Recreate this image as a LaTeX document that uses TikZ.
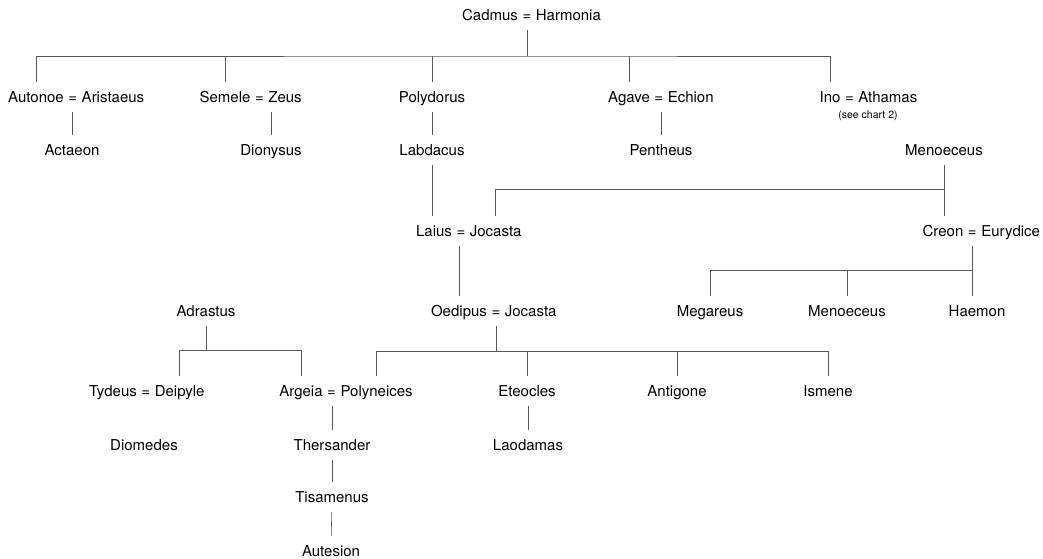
\documentclass[tikz,border=0pt]{standalone}
\usepackage{fontspec}
\setmainfont{TeX Gyre Heros}
\usetikzlibrary{positioning}

\tikzset{
  person/.style={inner xsep=0pt, inner ysep=10pt, text height=10pt, text depth=0pt,
    font=\fontsize{15}{18}\selectfont},
  spouse/.style={person, right=4.2pt of #1},
  remark/.style={inner sep=0pt, font=\fontsize{10.5}{12}\selectfont},
  kin/.style={draw=black!65, line width=0.6pt},
}

\begin{document}
\begin{tikzpicture}[x=1pt, y=-1pt]
\useasboundingbox (0,0) rectangle (1043,558);

%% first couple
\node[person] (cadmus) at (490,15) {Cadmus};
\node[spouse=cadmus] (cadwed) {=};
\node[spouse=cadwed] (harmonia) {Harmonia};

%% their children
\node[person] (autonoe) at (36,97) {Autonoe};
\node[spouse=autonoe] (autwed) {=};
\node[spouse=autwed] (aristaeus) {Aristaeus};
\node[person] (semele) at (225,97) {Semele};
\node[spouse=semele] (semwed) {=};
\node[spouse=semwed] (zeus) {Zeus};
\node[person] (polydorus) at (432,97) {Polydorus};
\node[person] (agave) at (629,97) {Agave};
\node[spouse=agave] (agawed) {=};
\node[spouse=agawed] (echion) {Echion};
\node[person] (ino) at (830,97) {Ino};
\node[spouse=ino] (inowed) {=};
\node[spouse=inowed] (athamas) {Athamas};
\node[remark] (chart2) at (868,116) {(see chart 2)};

\node[person] (actaeon) at (72,150) {Actaeon};
\node[person] (dionysus) at (271,150) {Dionysus};
\node[person] (labdacus) at (432,150) {Labdacus};
\node[person] (pentheus) at (661,150) {Pentheus};
\node[person] (menoeceus) at (944,150) {Menoeceus};

\node[person] (laius) at (434,231) {Laius};
\node[spouse=laius] (laiwed) {=};
\node[spouse=laiwed] (jocasta) {Jocasta};
\node[person] (creon) at (943,231) {Creon};
\node[spouse=creon] (crewed) {=};
\node[spouse=crewed] (eurydice) {Eurydice};

\node[person] (adrastus) at (206,311) {Adrastus};
\node[person] (oedipus) at (459,311) {Oedipus};
\node[spouse=oedipus] (oedwed) {=};
\node[spouse=oedwed] (jocastab) {Jocasta};
\node[person] (megareus) at (710,311) {Megareus};
\node[person] (menoeceusb) at (847,311) {Menoeceus};
\node[person] (haemon) at (977,311) {Haemon};

\node[person] (tydeus) at (113,391) {Tydeus};
\node[spouse=tydeus] (tydwed) {=};
\node[spouse=tydwed] (deipyle) {Deipyle};
\node[person] (argeia) at (301,391) {Argeia};
\node[spouse=argeia] (argwed) {=};
\node[spouse=argwed] (polyneices) {Polyneices};
\node[person] (eteocles) at (527,391) {Eteocles};
\node[person] (antigone) at (677,391) {Antigone};
\node[person] (ismene) at (828,391) {Ismene};

\node[person] (diomedes) at (144,445) {Diomedes};
\node[person] (thersander) at (332,445) {Thersander};
\node[person] (laodamas) at (528,445) {Laodamas};
\node[person] (tisamenus) at (332,497) {Tisamenus};
\node[person] (autesion) at (331,551) {Autesion};

%% Cadmus' line
\coordinate (cadbar) at (cadwed.south |- 0,56);
\draw[kin] (cadwed.south) -- (cadbar);
\draw[kin] (autonoe.north) |- (cadbar) -| (ino.north);
\foreach \n in {semele,polydorus,agave}
  \draw[kin] (\n.north) -- (\n.north |- cadbar);

\draw[kin] (actaeon.north) -- (actaeon.north |- autonoe.south);
\draw[kin] (dionysus.north) -- (dionysus.north |- semele.south);
\draw[kin] (pentheus.north) -- (pentheus.north |- agave.south);
\draw[kin] (polydorus) -- (labdacus);
\draw[kin] (labdacus.south) -- (labdacus.south |- laius.north);
\draw[kin] (oedipus.north) -- (oedipus.north |- laius.south);

%% Menoeceus
\coordinate (menbar) at (menoeceus.south |- 0,189);
\draw[kin] (menoeceus.south) -- (menoeceus.south |- creon.north);
\draw[kin] (jocasta.north) |- (menbar);

%% Creon
\coordinate (crebar) at (crewed.south |- 0,270);
\draw[kin] (crewed.south) -- (crebar) -- (crebar |- haemon.north);
\draw[kin] (megareus.north) |- (crebar);
\draw[kin] (menoeceusb.north) -- (menoeceusb.north |- crebar);

%% Oedipus
\coordinate (oedbar) at (oedwed.south |- 0,351);
\draw[kin] (oedwed.south) -- (oedbar);
\draw[kin] (polyneices.north) |- (oedbar) -| (ismene.north);
\foreach \n in {eteocles,antigone}
  \draw[kin] (\n.north) -- (\n.north |- oedbar);

%% Adrastus
\coordinate (adrbar) at (adrastus.south |- 0,350);
\draw[kin] (adrastus.south) -- (adrbar);
\draw[kin] (deipyle.north) |- (adrbar) -| (argeia.north);

\draw[kin] (thersander.north) -- (thersander.north |- argwed.south);
\draw[kin] (thersander) -- (tisamenus);
\draw[kin] (tisamenus) -- (autesion);
\draw[kin] (laodamas.north) -- (laodamas.north |- eteocles.south);

\end{tikzpicture}
\end{document}
